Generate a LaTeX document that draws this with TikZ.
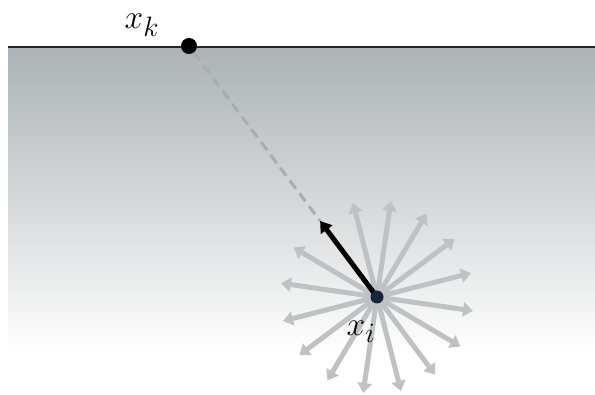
\documentclass[tikz,border=0pt]{standalone}
\usepackage{tikz}
\usetikzlibrary{arrows.meta,positioning}
\definecolor{raygray}{RGB}{190,194,197}
\definecolor{sightgray}{RGB}{168,173,176}
\definecolor{wallgray}{RGB}{172,178,181}
\definecolor{pointnavy}{RGB}{22,36,60}
\tikzset{
  wall/.style={top color=wallgray, middle color=wallgray!40!white, bottom color=white, draw=none},
  wall edge/.style={line width=2pt, black!85},
  far point/.style={circle, fill=black, inner sep=0pt, minimum size=16pt},
  near point/.style={circle, fill=pointnavy, inner sep=0pt, minimum size=13pt},
  point label/.style={font=\Huge, scale=1.35, transform shape},
  ray arrow/.style={-{Triangle[length=10pt,width=14pt]}, line width=5pt, raygray},
  view arrow/.style={-{Triangle[length=11pt,width=14pt]}, line width=5pt, black},
  sight line/.style={line width=3pt, sightgray, dash pattern=on 10pt off 6pt}
}
\begin{document}
\begin{tikzpicture}[x=1pt, y=1pt]
    \useasboundingbox (0,0) rectangle (595,394);
    \fill[wall] (8,40) rectangle (595,347);
    \draw[wall edge] (8,347) -- (595,347);
    \node[far point] (xk) at (189,348) {};
    \node[point label] (xklabel) at (142,369) {$x_k$};
    \coordinate (xi) at (377,97);
    \foreach \a [count=\i] in {149.3,171.8,194.3,216.8,239.3,261.8,284.3,306.8,329.3,351.8,14.3,36.8,59.3,81.8,104.3} {
      \path (xi) ++(\a:97) coordinate (ray\i);
      \draw[ray arrow] (xi) -- (ray\i);
    }
    \path (xi) ++(126.8:95) coordinate (tip);
    \draw[sight line] (xk) -- (tip);
    \draw[view arrow] (xi) -- (tip);
    \node[near point] (center) at (xi) {};
    \node[point label] (xilabel) at (361,62) {$x_i$};
  \end{tikzpicture}
\end{document}
